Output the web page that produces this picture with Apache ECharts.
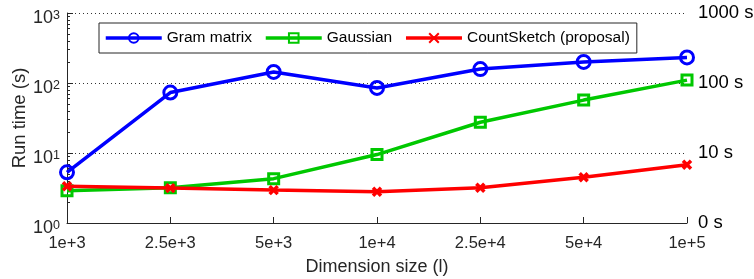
<!DOCTYPE html>
<html>
<head>
<meta charset="utf-8">
<script src="https://cdn.jsdelivr.net/npm/echarts@6/dist/echarts.min.js"></script>
<style>
html,body{margin:0;padding:0;background:#fff;}
#chart{width:754px;height:279px;}
</style>
</head>
<body>
<div id="chart"></div>
<script>
const categories = ['1e+3', '2.5e+3', '5e+3', '1e+4', '2.5e+4', '5e+4', '1e+5'];
const gramMatrix = [5.3, 73, 144, 85, 158, 200, 232];
const gaussian = [2.9, 3.2, 4.3, 9.5, 27.5, 57, 110];
const countSketch = [3.35, 3.15, 2.95, 2.8, 3.2, 4.5, 6.8];
const leftTickExponents = ['0', '1', '2', '3'];
const rightTickLabels = ['0 s', '10 s', '100 s', '1000 s'];
const seriesNames = ['Gram matrix', 'Gaussian', 'CountSketch (proposal)'];

const FONT = '"Liberation Sans", Arial, Helvetica, sans-serif';
const AX = '#262626';

function expIndex(v) { return Math.round(Math.log10(v)); }

const chart = echarts.init(document.getElementById('chart'), null, {renderer: 'canvas'});

chart.setOption({
  animation: false,
  backgroundColor: '#fff',
  textStyle: {fontFamily: FONT},
  grid: {left: 67, right: 67, top: 13, bottom: 56, containLabel: false, outerBoundsMode: 'none'},
  legend: {
    left: 99, top: 23,
    orient: 'horizontal',
    data: seriesNames,
    backgroundColor: '#fff',
    borderColor: AX, borderWidth: 1, borderRadius: 0,
    padding: [7, 7, 7, 5],
    itemWidth: 56, itemHeight: 12, itemGap: 12,
    lineStyle: {width: 3.5},
    textStyle: {fontFamily: FONT, fontSize: 15.5, color: '#000'}
  },
  xAxis: {
    type: 'category',
    data: categories,
    boundaryGap: false,
    name: 'Dimension size (l)',
    nameLocation: 'middle',
    nameGap: 35,
    nameMoveOverlap: false,
    nameTextStyle: {fontFamily: FONT, fontSize: 18, color: AX},
    axisLine: {show: true, lineStyle: {color: AX, width: 1}},
    axisTick: {show: true, inside: true, length: 6, lineStyle: {color: AX}},
    axisLabel: {fontFamily: FONT, fontSize: 16.5, color: AX, margin: 12},
    splitLine: {show: false}
  },
  yAxis: [{
    type: 'log',
    logBase: 10,
    min: 1, max: 1000,
    position: 'left',
    name: 'Run time (s)',
    nameLocation: 'middle',
    nameGap: 38,
    nameMoveOverlap: false,
    nameRotate: 90,
    nameTextStyle: {fontFamily: FONT, fontSize: 18.5, color: AX},
    axisLine: {show: true, lineStyle: {color: AX, width: 1}},
    axisTick: {show: true, inside: true, length: 6, lineStyle: {color: AX}},
    minorTick: {show: true, splitNumber: 9, length: 3, lineStyle: {color: AX}},
    splitLine: {show: true, lineStyle: {color: '#333', width: 1, type: [1, 3]}},
    axisLabel: {
      margin: 7,
      padding: [11, 0, 0, 0],
      formatter: function (v) { return '{b|10}{s|' + leftTickExponents[expIndex(v)] + '}'; },
      rich: {
        b: {fontFamily: FONT, fontSize: 18, color: AX, lineHeight: 18, verticalAlign: 'bottom'},
        s: {fontFamily: FONT, fontSize: 12.5, color: AX, lineHeight: 12, verticalAlign: 'top', padding: [0, 0, 10, 0]}
      }
    }
  }, {
    type: 'log',
    logBase: 10,
    min: 1, max: 1000,
    position: 'right',
    axisLine: {show: false},
    axisTick: {show: false},
    splitLine: {show: false},
    axisLabel: {
      margin: 11,
      padding: [5, 0, 0, 0],
      fontFamily: FONT, fontSize: 18.5, color: '#000',
      formatter: function (v) { return rightTickLabels[expIndex(v)]; }
    }
  }],
  series: [{
    name: seriesNames[0],
    type: 'line',
    data: gramMatrix,
    symbol: 'circle',
    symbolSize: 13,
    lineStyle: {color: '#0000ff', width: 3.5},
    itemStyle: {color: 'rgba(255,255,255,0)', borderColor: '#0000ff', borderWidth: 3},
    z: 3
  }, {
    name: seriesNames[1],
    type: 'line',
    data: gaussian,
    symbol: 'rect',
    symbolSize: 10,
    lineStyle: {color: '#00c800', width: 3.5},
    itemStyle: {color: 'rgba(255,255,255,0)', borderColor: '#00c800', borderWidth: 3},
    z: 4
  }, {
    name: seriesNames[2],
    type: 'line',
    data: countSketch,
    symbol: 'path://M0,0L10,10M10,0L0,10',
    symbolSize: 8,
    lineStyle: {color: '#ff0000', width: 3.5},
    itemStyle: {color: 'rgba(255,255,255,0)', borderColor: '#ff0000', borderWidth: 3.5},
    z: 5
  }]
});
</script>
</body>
</html>
